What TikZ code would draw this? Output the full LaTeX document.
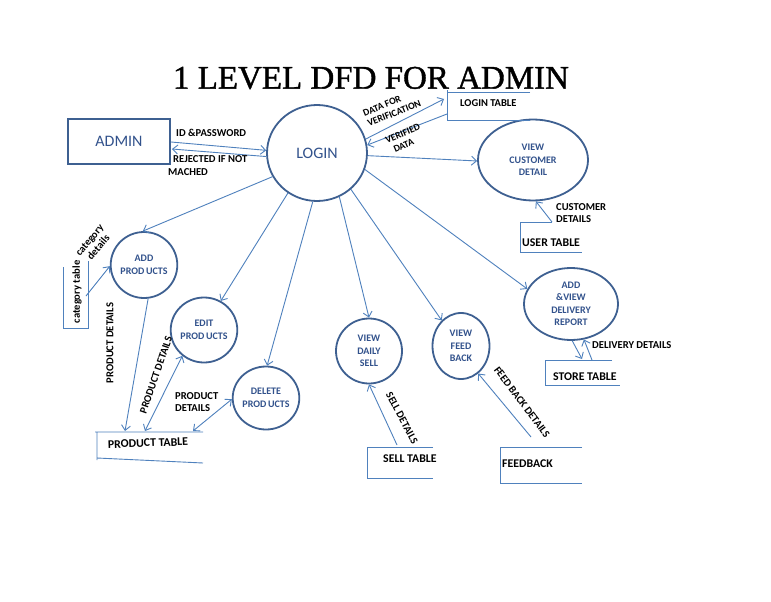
\documentclass[tikz,border=0pt]{standalone}
\usepackage{fontspec}
\setmainfont{Carlito}
\newfontfamily\titlefont[FakeBold=1.2]{Liberation Serif}
\usetikzlibrary{shapes.geometric,arrows.meta}
\definecolor{edgeblue}{RGB}{79,129,189}
\definecolor{shapeblue}{RGB}{62,96,145}
\definecolor{txtblue}{RGB}{50,82,140}
\begin{document}
\begin{tikzpicture}[x=1pt,y=-1pt,
 proc/.style={ellipse,draw=shapeblue,line width=1.8pt,inner sep=0pt,align=center,
   font=\fontsize{10}{12.5}\selectfont\bfseries,text=txtblue},
 flow/.style={draw=edgeblue,line width=0.9pt,-{Straight Barb[length=5pt,width=9pt]}},
 both/.style={draw=edgeblue,line width=0.9pt,{Straight Barb[length=5pt,width=9pt]}-{Straight Barb[length=5pt,width=9pt]}},
 storeline/.style={draw=edgeblue,line width=0.9pt},
 lbl/.style={font=\fontsize{10.6}{12.5}\selectfont\bfseries,text=black,inner sep=0pt,align=left},
 tbl/.style={font=\fontsize{11.8}{13}\selectfont\bfseries,inner sep=0pt,anchor=west}
]
\useasboundingbox (0,0) rectangle (771,602);
\fill[white] (0,0) rectangle (771,602);

% title
\node[font=\titlefont\fontsize{33}{36}\selectfont] (title) at (371,78) {1 LEVEL DFD FOR ADMIN};

% entities and processes
\node[draw=shapeblue,line width=2.2pt,minimum width=102pt,minimum height=45pt,
      font=\fontsize{16}{18}\selectfont,text=txtblue] (admin) at (119,141.5) {ADMIN};
\node[proc,minimum width=100pt,minimum height=96pt,font=\fontsize{16}{18}\selectfont] (login) at (317,153) {LOGIN};
\node[proc,minimum width=110pt,minimum height=81pt] (viewcust) at (533,160) {VIEW\\CUSTOMER\\DETAIL};
\node[proc,minimum width=60pt,minimum height=66pt] (addp) at (144,265) {ADD\\PROD\,UCTS};
\node[proc,minimum width=65pt,minimum height=65pt] (editp) at (204,330) {EDIT\\PROD\,UCTS};
\node[proc,minimum width=66pt,minimum height=63pt] (delp) at (266,398) {DELETE\\PROD\,UCTS};
\node[proc,minimum width=66pt,minimum height=65pt] (sell) at (369,351) {VIEW\\DAILY\\SELL};
\node[proc,minimum width=57pt,minimum height=66pt] (feed) at (461,346) {VIEW\\FEED\\BACK};
\node[proc,minimum width=94pt,minimum height=72pt] (deliv) at (571,304) {ADD\\\&VIEW\\DELIVERY\\REPORT};

% data stores (open rectangles)
\draw[storeline] (530,92) -- (447,92) (447,90) -- (447,121) (447,120) -- (530,120);
\node[tbl,font=\fontsize{10.5}{12}\selectfont\bfseries] (logintbl) at (460,103) {LOGIN TABLE};
\draw[storeline] (552,222) -- (520,222) -- (520,253) (520,252) -- (582,252);
\node[tbl] (usertbl) at (522,243) {USER TABLE};
\draw[storeline] (63,267) -- (63,328) -- (89,328) (88,261) -- (88,329);
\node[lbl,rotate=90] (cattbl) at (77,292) {category table};
\draw[storeline] (203,432) -- (95,432) (97,432) -- (97,460) (97,458) -- (203,463);
\node[tbl,anchor=center,rotate=2] (prodtbl) at (148,443) {PRODUCT TABLE};
\draw[storeline] (433,447) -- (367,447) -- (367,479) (367,478) -- (433,478);
\node[tbl] (selltbl) at (383,459) {SELL TABLE};
\draw[storeline] (582,447) -- (500,447) -- (500,484) (500,483) -- (582,483);
\node[tbl] (feedtbl) at (502,464) {FEEDBACK};
\draw[storeline] (612,360) -- (545,360) -- (545,386) (545,385) -- (620,385);
\node[tbl] (storetbl) at (553,377) {STORE TABLE};

% connector end points on stores
\coordinate (ltin) at (444,99);
\coordinate (ltout) at (447,114);
\coordinate (utout) at (552,222);
\coordinate (ctout) at (86,296);
\coordinate (pt1) at (125,431);
\coordinate (pt2) at (145,431);
\coordinate (pt3) at (193,431);
\coordinate (stout) at (397,445);
\coordinate (ftout) at (531,437);
\coordinate (sin) at (582,359);
\coordinate (sout) at (592,360);
\coordinate (a1) at (171,142);
\coordinate (a2) at (172,149);

% connectors
\draw[flow] (a1) -- (login.177);
\draw[flow] (login.184) -- (a2);
\draw[flow] (login.16) -- (ltin);
\draw[flow] (ltout) -- (login.9);
\draw[flow] (login.-3) -- (viewcust.181);
\draw[flow] (utout) -- (viewcust.-86);
\draw[flow] (login.208) -- (addp.92);
\draw[flow] (login.234) -- (editp.60);
\draw[flow] (login.265) -- (delp.88);
\draw[flow] (login.297) -- (sell.90);
\draw[flow] (login.313) -- (feed.127);
\draw[flow] (login.341) -- (deliv.161);
\draw[flow] (ctout) -- (addp.182);
\draw[flow] (addp.277) -- (pt1);
\draw[both] (pt2) -- (editp.230);
\draw[both] (pt3) -- (delp.182);
\draw[flow] (stout) -- (sell.270);
\draw[flow] (ftout) -- (feed.-58);
\draw[flow] (deliv.-88) -- (sin);
\draw[flow] (sout) -- (deliv.-70);

% labels
\node[lbl,anchor=west] (l1) at (176,133) {ID \&PASSWORD};
\node[lbl,anchor=west] (l2) at (173,159) {REJECTED IF NOT};
\node[lbl,anchor=west] (l3) at (168,172) {MACHED};
\node[lbl,rotate=22,font=\fontsize{9.8}{11.5}\selectfont\bfseries] (l4) at (392,108) {DATA FOR\\VERIFICATION};
\node[lbl,rotate=23,font=\fontsize{9.8}{11.5}\selectfont\bfseries] (l5) at (405,139) {VERIFIED\\\hspace*{4pt}DATA};
\node[lbl,anchor=west] (l6) at (556,213) {CUSTOMER\\DETAILS};
\node[lbl,rotate=50,align=center,font=\fontsize{10.5}{11.5}\selectfont\bfseries] (l7) at (94,244) {category\\details};
\node[lbl,rotate=90] (l8) at (110,343) {PRODUCT DETAILS};
\node[lbl,rotate=71] (l9) at (156,375) {PRODUCT DETAILS};
\node[lbl,anchor=west] (l10) at (175,402) {PRODUCT\\DETAILS};
\node[lbl,rotate=-62] (l11) at (402,418) {SELL DETAILS};
\node[lbl,rotate=-53] (l12) at (522,402) {FEED BACK DETAILS};
\node[lbl,anchor=west] (l13) at (592,345) {DELIVERY DETAILS};
\end{tikzpicture}
\end{document}
